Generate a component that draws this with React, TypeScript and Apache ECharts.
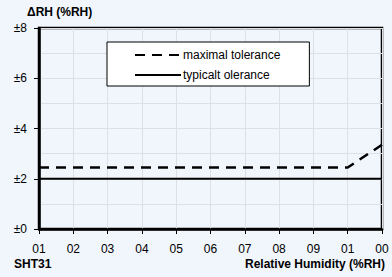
import React, { useEffect, useRef } from "react";
import * as echarts from "echarts";

const xTickLabels = ["01", "02", "03", "04", "05", "06", "07", "08", "09", "01", "00"];
const maxTolX = [0, 90, 100];
const maxTolY = [2.45, 2.45, 3.35];
const typTolX = [0, 100];
const typTolY = [2, 2];
const seriesNames = ["maximal tolerance", "typicalt olerance"];

export default function App() {
  const ref = useRef<HTMLDivElement>(null);
  useEffect(() => {
    if (!ref.current) return;
    const chart = echarts.init(ref.current, undefined, { renderer: "svg" });
    const font = "Liberation Sans, Arial, sans-serif";
    chart.setOption({
      animation: false,
      backgroundColor: "#f0f6fc",
      textStyle: { fontFamily: font },
      grid: {
        left: 39,
        top: 28,
        right: 10,
        bottom: 48,
        show: true,
        borderColor: "#000",
        borderWidth: 2.5,
        backgroundColor: "transparent",
      },
      legend: {
        orient: "vertical",
        left: 107,
        top: 42,
        width: 205,
        padding: [7, 29, 5, 27],
        itemWidth: 46,
        itemHeight: 10,
        itemGap: 8,
        backgroundColor: "#fff",
        borderColor: "#000",
        borderWidth: 1,
        itemStyle: { opacity: 0, color: "transparent", borderWidth: 0 },
        textStyle: { fontFamily: font, fontSize: 12, color: "#000", padding: [0, 0, 0, -3] },
        data: seriesNames,
      },
      xAxis: {
        type: "value",
        min: 0,
        max: 100,
        interval: 10,
        axisLine: { show: true, lineStyle: { color: "#000", width: 2.5 } },
        axisTick: { show: true, length: 5, lineStyle: { color: "#000", width: 1 } },
        axisLabel: {
          margin: 14,
          fontSize: 12,
          color: "#000",
          fontFamily: font,
          formatter: (v: number) => xTickLabels[Math.round(v / 10)] ?? "",
        },
        splitLine: { show: true, lineStyle: { color: "#dcdfe3", width: 1 } },
      },
      yAxis: {
        type: "value",
        min: 0,
        max: 8,
        interval: 2,
        axisLine: { show: true, lineStyle: { color: "#000", width: 2.5 } },
        axisTick: { show: true, length: 5, lineStyle: { color: "#000", width: 1 } },
        minorTick: { show: false, splitNumber: 2 },
        minorSplitLine: { show: true, lineStyle: { color: "#dcdfe3", width: 1 } },
        axisLabel: {
          margin: 12,
          fontSize: 12,
          color: "#000",
          fontFamily: font,
          formatter: (v: number) => "±" + v,
        },
        splitLine: { show: true, lineStyle: { color: "#dcdfe3", width: 1 } },
      },
      series: [
        {
          name: seriesNames[0],
          type: "line",
          symbol: "none",
          data: maxTolX.map((x, i) => [x, maxTolY[i]]),
          lineStyle: { color: "#000", width: 2.5, type: [10, 7] },
          itemStyle: { color: "#000" },
          z: 3,
        },
        {
          name: seriesNames[1],
          type: "line",
          symbol: "none",
          data: typTolX.map((x, i) => [x, typTolY[i]]),
          lineStyle: { color: "#000", width: 2 },
          itemStyle: { color: "#000" },
          z: 3,
        },
      ],
      graphic: [
        {
          type: "text",
          left: 27,
          top: 6,
          style: { text: "ΔRH (%RH)", font: `bold 12px ${font}`, fill: "#000" },
        },
        {
          type: "text",
          left: 14,
          top: 258,
          style: { text: "SHT31", font: `bold 12px ${font}`, fill: "#000" },
        },
        {
          type: "text",
          right: 7,
          top: 258,
          style: { text: "Relative Humidity (%RH)", font: `bold 12px ${font}`, fill: "#000" },
        },
      ],
    });
    return () => chart.dispose();
  }, []);
  return (
    <div
      ref={ref}
      style={{ position: "fixed", left: 0, top: 0, width: 392, height: 277 }}
    />
  );
}
